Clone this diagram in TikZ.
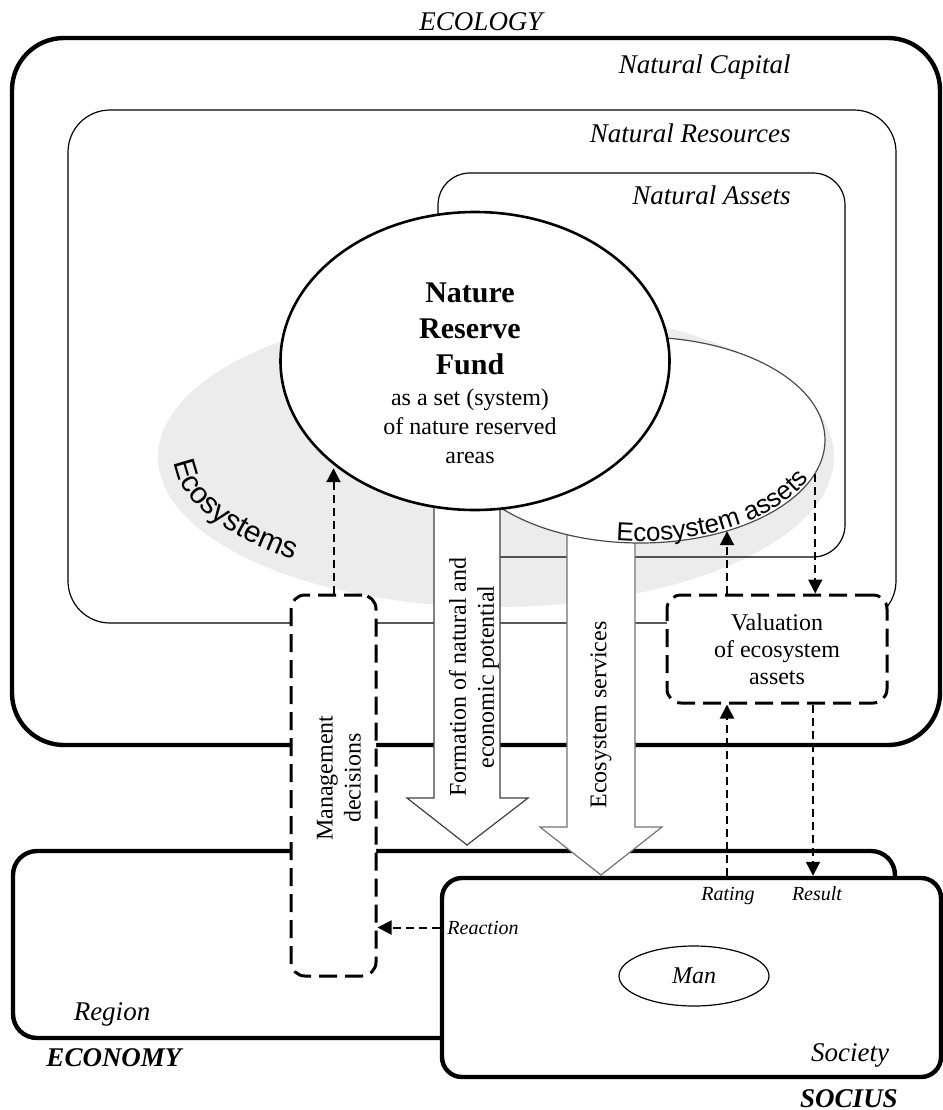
\documentclass[tikz,border=0pt]{standalone}
\usepackage{fontspec}
\setmainfont{Liberation Serif}
\newfontfamily\arialfont{Liberation Sans}
\usetikzlibrary{shapes.geometric,arrows.meta,decorations.text}
\definecolor{ecogray}{RGB}{236,236,236}
\tikzset{
bigbox/.style={line width=2.2pt},
thinbox/.style={line width=0.6pt},
areaname/.style={font=\fontsize{13.5}{16}\selectfont\itshape, inner sep=0pt},
sphere/.style={font=\fontsize{13.5}{16}\selectfont\bfseries\itshape, inner sep=0pt},
dashbox/.style={draw, line width=1.5pt, dash pattern=on 9pt off 4pt, rounded corners=7pt, fill=white},
dasharrow/.style={line width=1pt, dash pattern=on 4pt off 2.5pt, -{Triangle[length=7pt,width=7pt]}},
blockarrow/.style={draw=black!75, line width=0.6pt, fill=white},
note/.style={font=\fontsize{12}{14}\selectfont, align=center},
smallnote/.style={font=\fontsize{10}{12}\selectfont\itshape, inner sep=0pt}
}

\begin{document}
\begin{tikzpicture}[x=0.5pt,y=-0.5pt]
\useasboundingbox (0,0) rectangle (943,1110);

% ecosystems
\fill[ecogray] (496,457) ellipse [x radius=338, y radius=150];
\path[decorate, decoration={text along path, text align=center,
  text={|\arialfont\fontsize{15}{18}\selectfont|Ecosystems}}]
  (174.4,448.3) arc [start angle=183, end angle=126, x radius=322, y radius=134];

% spheres
\draw[bigbox, rounded corners=26pt] (12,38) rectangle (940,745);
\draw[thinbox, rounded corners=21pt] (68,110) rectangle (896,623);
\draw[thinbox, rounded corners=16pt] (438,173) rectangle (845,557);
\draw[bigbox, rounded corners=12pt] (13,851) rectangle (895,1038);

% flows
\draw[blockarrow] (434,440) -- (434,798) -- (407,798) -- (467,845) -- (528,798) -- (500,798) -- (500,440) -- cycle;
\draw[blockarrow, draw=black!55] (567,480) -- (567,827) -- (540,827) -- (601,875) -- (662,827) -- (635,827) -- (635,480) -- cycle;
\node[note, rotate=90] (formation) at (474,677) {Formation of natural and\\economic potential};
\node[note, rotate=90] (services) at (601,715) {Ecosystem services};

% assets and fund
\node[ellipse, draw=black!70, thinbox, fill=white, minimum width=185pt, minimum height=103pt, inner sep=0pt] (ecoassets) at (640,440) {};
\path[decorate, decoration={text along path, text align=center,
  text={|\arialfont\fontsize{13}{15}\selectfont|Ecosystem assets}}]
  (595.7,538) arc [start angle=104, end angle=12, x radius=183, y radius=101];
\node[ellipse, draw, line width=1.3pt, fill=white, minimum width=194.5pt, minimum height=149pt, inner sep=0pt] (fund) at (475,361) {};
\node[font=\fontsize{15}{18}\selectfont\bfseries, align=center] (fundname) at (470,329) {Nature\\Reserve\\Fund};
\node[note, font=\fontsize{12}{14.5}\selectfont] (fundnote) at (470,426) {as a set (system)\\of nature reserved\\areas};

% decisions, valuation
\node[dashbox, minimum width=42.5pt, minimum height=190.5pt] (decisions) at (333.5,785.5) {};
\node[note, rotate=90] (decisionstext) at (339,778) {Management\\decisions};
\node[dashbox, note, font=\fontsize{12}{13.5}\selectfont, minimum width=110pt, minimum height=54pt] (valuation) at (777,649) {Valuation\\of ecosystem\\assets};

% society
\node[draw, bigbox, rounded corners=10pt, fill=white, minimum width=249.5pt, minimum height=99.5pt] (society) at (691.5,977.5) {};
\node[ellipse, draw, thinbox, minimum width=75pt, minimum height=30pt, inner sep=0pt, font=\fontsize{12}{14}\selectfont\itshape] (man) at (694,976) {Man};

\node[areaname, anchor=base] (ecology) at (481,30) {ECOLOGY};
\node[areaname, anchor=base east] (capital) at (791,73) {Natural Capital};
\node[areaname, anchor=base east] (resources) at (791,142) {Natural Resources};
\node[areaname, anchor=base east] (assets) at (791,204) {Natural Assets};
\node[areaname, anchor=base] (region) at (112,1020) {Region};
\node[sphere, anchor=base] (economy) at (114,1066) {ECONOMY};
\node[areaname, anchor=base] (societyname) at (850,1061) {Society};
\node[sphere, anchor=base] (socius) at (849,1107) {SOCIUS};
\node[smallnote, anchor=base] (rating) at (728,900) {Rating};
\node[smallnote, anchor=base] (result) at (817,900) {Result};
\node[smallnote, anchor=base] (reaction) at (483,934) {Reaction};

% links
\draw[dasharrow] (decisions.north) -- (decisions.north |- fund.218);
\draw[dasharrow] ([xshift=-25pt]valuation.north) -- ([xshift=-25pt]valuation.north |- ecoassets.-46);
\draw[dasharrow] (ecoassets.-11) -- (ecoassets.-11 |- valuation.north);
\draw[dasharrow] ([xshift=-25pt]valuation.south |- society.north) -- ([xshift=-25pt]valuation.south);
\draw[dasharrow] ([xshift=18pt]valuation.south) -- ([xshift=18pt]valuation.south |- society.north);
\draw[dasharrow] ([yshift=25pt]society.west) -- ([yshift=25pt]society.west -| decisions.east);

\end{tikzpicture}
\end{document}
